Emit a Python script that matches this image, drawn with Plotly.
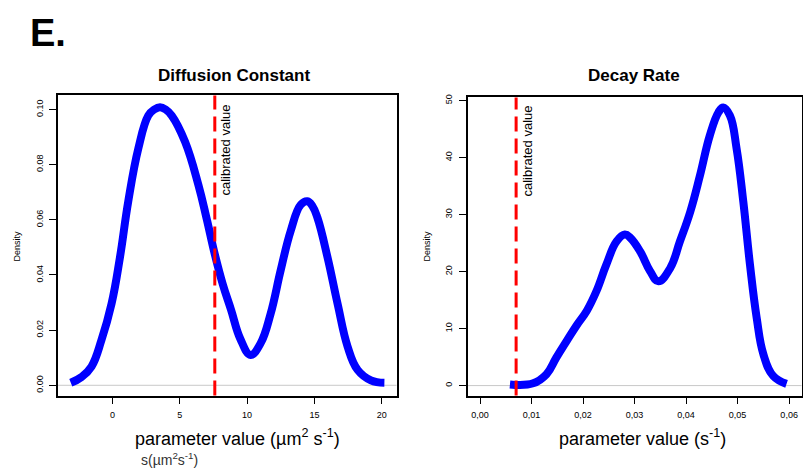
import plotly.graph_objects as go

W, H = 803, 474

# ---- data ----
diff_x = [-3.10, -2.3, -1.56, -0.82, -0.07, 0.55, 1.17, 1.92, 2.66, 3.1, 3.53, 3.95, 4.40, 5.39, 6.39,
          7.0, 7.6, 8.2, 8.8, 9.5, 10.26, 11.0, 11.75, 12.49, 13.24, 13.99, 14.48, 14.85,
          15.23, 15.98, 16.72, 17.47, 18.21, 19.2, 20.2]
diff_density = [0.0009, 0.003, 0.0068, 0.0164, 0.0296, 0.0463, 0.0667, 0.0859, 0.0978, 0.1000, 0.1008,
                0.1000, 0.0978, 0.0883, 0.0725, 0.0603, 0.0475, 0.0365, 0.0275, 0.0168, 0.011, 0.0152,
                0.026, 0.0416, 0.056, 0.0655, 0.0667, 0.0650, 0.0607, 0.0463, 0.0296, 0.014, 0.0056,
                0.0018, 0.0009]
decay_x = [0.0058, 0.0103, 0.0129, 0.0148, 0.0168, 0.0187, 0.0207, 0.0226, 0.0245, 0.0265,
           0.0281, 0.0292, 0.0311, 0.0330, 0.0346, 0.0369, 0.0388, 0.0408, 0.0427, 0.0446,
           0.0463, 0.0472, 0.0485, 0.0498, 0.0511, 0.0524, 0.0537, 0.0550, 0.0569, 0.0595]
decay_density = [0.2, 0.4, 2.0, 4.9, 7.8, 10.5, 13.1, 16.6, 21.2, 25.3, 26.5, 25.9, 23.5, 20.1,
                 18.3, 20.6, 25.3, 30.5, 36.9, 43.9, 48.0, 48.8, 47.4, 41.6, 32.3, 21.2, 11.9,
                 5.5, 1.7, 0.3]
diff_calibrated = 7.6
decay_calibrated = 0.007

left_xticks = [0, 5, 10, 15, 20]
left_xlabels = ["0", "5", "10", "15", "20"]
left_yticks = [0, 0.02, 0.04, 0.06, 0.08, 0.10]
left_ylabels = ["0.00", "0.02", "0.04", "0.06", "0.08", "0.10"]
right_xticks = [0, 0.01, 0.02, 0.03, 0.04, 0.05, 0.06]
right_xlabels = ["0,00", "0,01", "0,02", "0,03", "0,04", "0,05", "0,06"]
right_yticks = [0, 10, 20, 30, 40, 50]
right_ylabels = ["0", "10", "20", "30", "40", "50"]


def px(x):
    return x / W


def py(y):
    return 1 - y / H


FONT = "Liberation Sans, Arial, sans-serif"

fig = go.Figure()
fig.add_trace(go.Scatter(x=diff_x, y=diff_density, mode="lines",
                         line=dict(color="#0000FF", width=8, shape="spline", smoothing=1.2),
                         xaxis="x", yaxis="y", showlegend=False, hoverinfo="skip"))
fig.add_trace(go.Scatter(x=decay_x, y=decay_density, mode="lines",
                         line=dict(color="#0000FF", width=8, shape="spline", smoothing=1.2),
                         xaxis="x2", yaxis="y2", showlegend=False, hoverinfo="skip"))

axis_common = dict(showgrid=False, zeroline=False, showline=True, linecolor="black",
                   linewidth=1.5, mirror=True, ticks="outside", ticklen=7, tickwidth=1,
                   tickcolor="black", tickfont=dict(family=FONT, size=9, color="black"))

fig.update_layout(
    width=W, height=H, margin=dict(l=0, r=0, t=0, b=0),
    paper_bgcolor="white", plot_bgcolor="white",
    xaxis=dict(domain=[px(58), px(396.5)], range=[-4.05, 21.1], anchor="y",
               tickvals=left_xticks, ticktext=left_xlabels, ticklabelstandoff=3, **axis_common),
    yaxis=dict(domain=[py(395), py(93)], range=[-0.0037, 0.1051], anchor="x",
               tickvals=left_yticks, ticktext=left_ylabels, tickangle=-90,
               ticklabelstandoff=3, **axis_common),
    xaxis2=dict(domain=[px(467.7), px(801.5)], range=[-0.0024, 0.0624], anchor="y2",
                tickvals=right_xticks, ticktext=right_xlabels, ticklabelstandoff=3, **axis_common),
    yaxis2=dict(domain=[py(395), py(95)], range=[-1.74, 50.58], anchor="x2",
                tickvals=right_yticks, ticktext=right_ylabels, tickangle=-90,
                ticklabelstandoff=3, **axis_common),
)

# zero lines (grey)
for xr, yr in (("x domain", "y"), ("x2 domain", "y2")):
    fig.add_shape(type="line", xref=xr, yref=yr, x0=0, x1=1, y0=0, y1=0,
                  line=dict(color="#c8c8c8", width=1), layer="below")

# calibrated value dashed lines
fig.add_shape(type="line", xref="x", yref="y domain", x0=diff_calibrated, x1=diff_calibrated,
              y0=0, y1=1, line=dict(color="#FF0000", width=3, dash="15px,7px"))
fig.add_shape(type="line", xref="x2", yref="y2 domain", x0=decay_calibrated, x1=decay_calibrated,
              y0=0, y1=1, line=dict(color="#FF0000", width=3, dash="15px,7px"))

ann = []


def add_text(text, x, y, size, bold=False, angle=0, color="black"):
    if bold:
        text = "<b>" + text + "</b>"
    ann.append(dict(text=text, x=px(x), y=py(y), xref="paper", yref="paper",
                    showarrow=False, xanchor="center", yanchor="middle", textangle=angle,
                    font=dict(family=FONT, size=size, color=color)))


add_text("E.", 48, 30, 38, bold=True)
add_text("Diffusion Constant", 234, 73, 17, bold=True)
add_text("Decay Rate", 634, 73, 17, bold=True)
add_text("Density", 17, 245, 9, angle=-90)
add_text("Density", 427, 245, 9, angle=-90)
add_text("calibrated value", 225.5, 148, 13, angle=-90)
add_text("calibrated value", 527.5, 149, 13, angle=-90)
add_text("parameter value (µm<sup>2</sup> s<sup>-1</sup>)", 237, 437, 18)
add_text("parameter value (s<sup>-1</sup>)", 642.5, 437, 18)
add_text("s(µm<sup>2</sup>s<sup>-1</sup>)", 169, 459, 14, color="#333333")

fig.update_layout(annotations=ann)
fig.write_html("out.html")
